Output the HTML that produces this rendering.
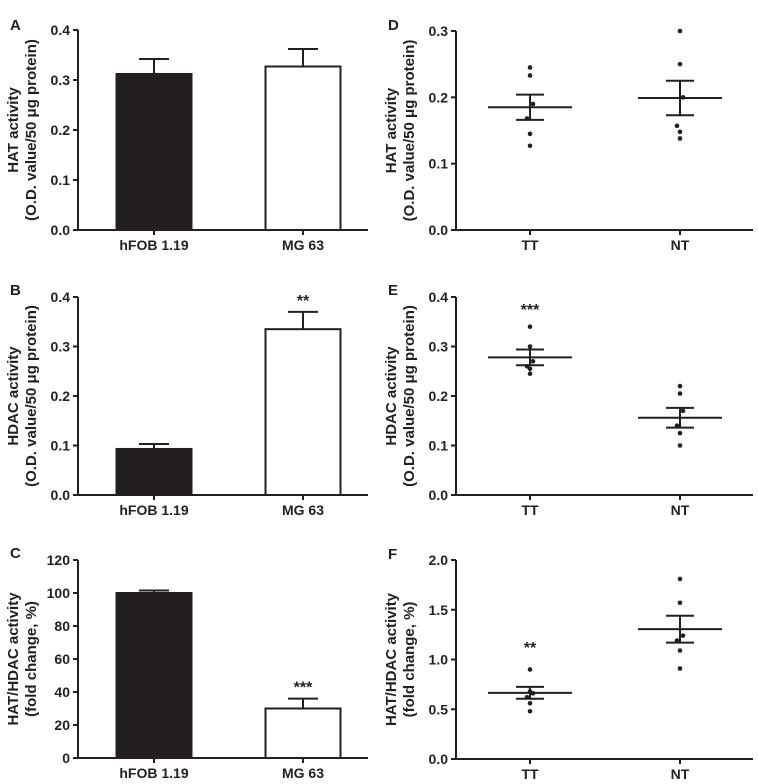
<!DOCTYPE html>
<html><head><meta charset="utf-8"><style>
body{margin:0;background:#fff;}
svg{display:block;font-family:"Liberation Sans",Arial,sans-serif;font-weight:bold;}
</style></head><body>
<svg id="fig" width="758" height="784" viewBox="0 0 758 784"></svg>
<script>
// Panel data
const barCats=["hFOB 1.19","MG 63"];
const aMeans=[0.312,0.327]; const aErr=[0.03,0.035];
const bMeans=[0.093,0.335]; const bErr=[0.01,0.035];
const cMeans=[100,30]; const cErr=[1.5,6];
const scatCats=["TT","NT"];
const dTT=[0.245,0.233,0.19,0.168,0.145,0.127]; const dNT=[0.3,0.25,0.2,0.157,0.148,0.138];
const dMean=[0.185,0.199]; const dSem=[0.019,0.026];
const eTT=[0.34,0.30,0.27,0.26,0.255,0.245]; const eNT=[0.22,0.205,0.17,0.14,0.125,0.1];
const eMean=[0.278,0.156]; const eSem=[0.016,0.02];
const fTT=[0.9,0.68,0.66,0.62,0.56,0.48]; const fNT=[1.81,1.57,1.24,1.19,1.09,0.91];
const fMean=[0.665,1.305]; const fSem=[0.06,0.135];
const ticks04=["0.0","0.1","0.2","0.3","0.4"];
const ticks03=["0.0","0.1","0.2","0.3"];
const ticks120=["0","20","40","60","80","100","120"];
const ticks20=["0.0","0.5","1.0","1.5","2.0"];

const svg=document.getElementById('fig');
const NS='http://www.w3.org/2000/svg';
function mk(tag,attrs,parent,name){const e=document.createElementNS(NS,tag);for(const k in attrs)e.setAttribute(k,attrs[k]);


(parent||svg).appendChild(e);return e;}
function txt(x,y,s,size,anchor,parent,name,rot){const t=mk('text',{x:x,y:y,'font-size':size,'text-anchor':anchor||'middle',fill:'#231f20'},parent,name);if(rot)t.setAttribute('transform','rotate(-90 '+x+' '+y+')');t.textContent=s;return t;}
function panel(o){
 const g=mk('g',{},svg,'panel-'+o.letter.toLowerCase());
 txt(o.ax-68,o.y0-215+15,o.letter,15,'start',g,'panel-label');
 const max=parseFloat(o.ticks[o.ticks.length-1]);
 const ys=v=>o.y0-(v/max)*(o.y0-o.ytop);
 mk('line',{x1:o.ax,y1:o.ytop,x2:o.ax,y2:o.y0,stroke:'#231f20','stroke-width':2},g,'y-axis');
 mk('line',{x1:o.ax,y1:o.y0,x2:o.xend,y2:o.y0,stroke:'#231f20','stroke-width':2},g,'x-axis');
 o.ticks.forEach(t=>{const y=ys(parseFloat(t));mk('line',{x1:o.ax-5,y1:y,x2:o.ax,y2:y,stroke:'#231f20','stroke-width':2},g,'y-tick');txt(o.ax-8,y+5,t,14,'end',g,'y-tick-label');});
 o.lines.forEach((l,i)=>txt(o.ax-60+i*18,(o.ytop+o.y0)/2,l,15,'middle',g,'y-axis-title',true));
 o.cats.forEach((c,i)=>{const x=o.xs[i];mk('line',{x1:x,y1:o.y0,x2:x,y2:o.y0+5,stroke:'#231f20','stroke-width':2},g,'x-tick');txt(x,o.y0+20,c,14,'middle',g,'x-tick-label');
  if(o.type==='bar'){const w=75;const y=ys(o.means[i]);const ye=ys(o.means[i]+o.err[i]);
   mk('line',{x1:x,y1:ye,x2:x,y2:y,stroke:'#231f20','stroke-width':2},g,'error-bar');
   mk('line',{x1:x-15,y1:ye,x2:x+15,y2:ye,stroke:'#231f20','stroke-width':2},g,'error-cap');
   mk('rect',{x:x-w/2,y:y,width:w,height:o.y0-y,fill:i===0?'#231f20':'#fff',stroke:'#231f20','stroke-width':2},g,'bar-'+c.toLowerCase().replace(/[^a-z0-9]+/g,'-'));
   if(o.stars[i])txt(x,ye-6,o.stars[i],16,'middle',g,'significance-marker');
  } else {
   o.pts[i].forEach((v,j)=>mk('circle',{cx:x+((j%3)-1)*3*(j>1&&j<5?1:0),cy:ys(v),r:2.3,fill:'#231f20'},g,'data-point'));
   const m=ys(o.means[i]),hi=ys(o.means[i]+o.err[i]),lo=ys(o.means[i]-o.err[i]);
   mk('line',{x1:x-42,y1:m,x2:x+42,y2:m,stroke:'#231f20','stroke-width':2},g,'mean-line');
   mk('line',{x1:x,y1:hi,x2:x,y2:lo,stroke:'#231f20','stroke-width':2},g,'sem-bar');
   mk('line',{x1:x-14,y1:hi,x2:x+14,y2:hi,stroke:'#231f20','stroke-width':2},g,'sem-cap');
   mk('line',{x1:x-14,y1:lo,x2:x+14,y2:lo,stroke:'#231f20','stroke-width':2},g,'sem-cap');
   if(o.stars[i])txt(x,o.starY,o.stars[i],16,'middle',g,'significance-marker');
  }});
}
panel({letter:'A',type:'bar',ax:78,xend:368,ytop:30,y0:230,ticks:ticks04,cats:barCats,xs:[154,303],means:aMeans,err:aErr,stars:['',''],lines:['HAT activity','(O.D. value/50 μg protein)']});
panel({letter:'B',type:'bar',ax:78,xend:368,ytop:297,y0:495,ticks:ticks04,cats:barCats,xs:[154,303],means:bMeans,err:bErr,stars:['','**'],lines:['HDAC activity','(O.D. value/50 μg protein)']});
panel({letter:'C',type:'bar',ax:78,xend:368,ytop:560,y0:758,ticks:ticks120,cats:barCats,xs:[154,303],means:cMeans,err:cErr,stars:['','***'],lines:['HAT/HDAC activity','(fold change, %)']});
panel({letter:'D',type:'scatter',ax:456,xend:753,ytop:31,y0:230,ticks:ticks03,cats:scatCats,xs:[530,680],pts:[dTT,dNT],means:dMean,err:dSem,stars:['',''],lines:['HAT activity','(O.D. value/50 μg protein)']});
panel({letter:'E',type:'scatter',ax:456,xend:753,ytop:297,y0:495,ticks:ticks04,cats:scatCats,xs:[530,680],pts:[eTT,eNT],means:eMean,err:eSem,stars:['***',''],starY:315,lines:['HDAC activity','(O.D. value/50 μg protein)']});
panel({letter:'F',type:'scatter',ax:456,xend:753,ytop:560,y0:759,ticks:ticks20,cats:scatCats,xs:[530,680],pts:[fTT,fNT],means:fMean,err:fSem,stars:['**',''],starY:653,lines:['HAT/HDAC activity','(fold change, %)']});
</script>
</body></html>
